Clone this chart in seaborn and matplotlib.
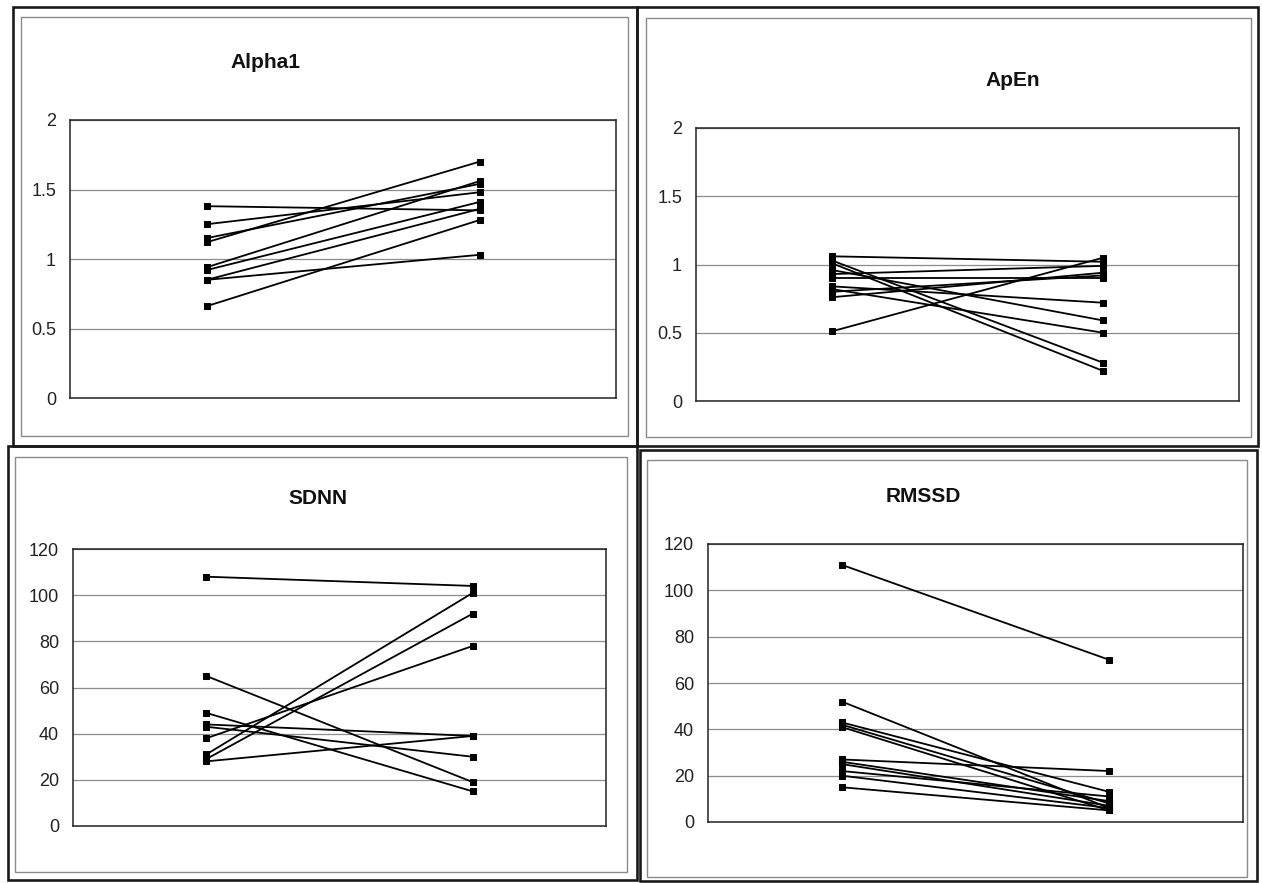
import numpy as np
import pandas as pd
import seaborn as sns
import matplotlib.pyplot as plt
from matplotlib.patches import Rectangle

# paired values, before (pre) and after (post), one pair per subject
alpha1_pre = [1.38, 1.25, 1.15, 1.12, 0.94, 0.92, 0.85, 0.85, 0.66]
alpha1_post = [1.35, 1.48, 1.54, 1.70, 1.56, 1.41, 1.36, 1.03, 1.28]

apen_pre = [1.06, 1.03, 1.01, 0.96, 0.93, 0.90, 0.84, 0.82, 0.80, 0.76, 0.51]
apen_post = [1.02, 0.28, 0.22, 0.59, 0.99, 0.90, 0.72, 0.50, 0.92, 0.94, 1.05]

sdnn_pre = [108, 65, 49, 44, 43, 38, 31, 29, 28]
sdnn_post = [104, 19, 15, 39, 30, 78, 101, 92, 39]

rmssd_pre = [111, 52, 43, 42, 41, 27, 26, 25, 22, 20, 15]
rmssd_post = [70, 6, 13, 8, 5, 22, 9, 7, 11, 6, 5]

titles = ["Alpha1", "ApEn", "SDNN", "RMSSD"]
yticks = [[0, 0.5, 1, 1.5, 2], [0, 0.5, 1, 1.5, 2],
          [0, 20, 40, 60, 80, 100, 120], [0, 20, 40, 60, 80, 100, 120]]
ytick_labels = [["0", "0.5", "1", "1.5", "2"], ["0", "0.5", "1", "1.5", "2"],
                ["0", "20", "40", "60", "80", "100", "120"],
                ["0", "20", "40", "60", "80", "100", "120"]]

W, H = 1262, 883

sns.set_style("white")
plt.rcParams['font.family'] = ['Liberation Sans Narrow', 'Liberation Sans', 'DejaVu Sans']

fig = plt.figure(figsize=(W / 100, H / 100), dpi=100)


def fbox(x0, y0, x1, y1):
    # pixel box (top-left origin) -> figure fraction [left, bottom, width, height]
    return [x0 / W, 1 - y1 / H, (x1 - x0) / W, (y1 - y0) / H]


# panel frames: outer dark line, inner grey line
outer = [(13, 7, 637, 446), (637, 7, 1258, 446), (8, 446, 637, 880), (640, 450, 1257, 881)]
inner = [(21, 17, 628, 436), (646, 18, 1251, 437), (15, 457, 627, 872), (647, 460, 1247, 877)]
for b in outer:
    l, bt, w, h = fbox(*b)
    fig.add_artist(Rectangle((l, bt), w, h, transform=fig.transFigure, fill=False,
                             edgecolor="#1a1a1a", linewidth=1.9))
for b in inner:
    l, bt, w, h = fbox(*b)
    fig.add_artist(Rectangle((l, bt), w, h, transform=fig.transFigure, fill=False,
                             edgecolor="#8a8a8a", linewidth=1.0))

plot_boxes = [(70, 120, 616, 398), (696, 128, 1239, 401), (73, 549, 606, 826), (708, 544, 1243, 822)]
title_pos = [(265, 62), (1013, 80), (318, 498), (923, 497)]

data = [(alpha1_pre, alpha1_post), (apen_pre, apen_post),
        (sdnn_pre, sdnn_post), (rmssd_pre, rmssd_post)]

for i, (pre, post) in enumerate(data):
    n = len(pre)
    df = pd.DataFrame({
        "subject": list(range(n)) * 2,
        "time": [0] * n + [1] * n,
        "value": pre + post,
    })
    ax = fig.add_axes(fbox(*plot_boxes[i]))
    sns.lineplot(data=df, x="time", y="value", units="subject", estimator=None,
                 color="black", linewidth=1.3, marker="s", markersize=4,
                 markeredgecolor="black", ax=ax)
    ax.set_xlim(-0.5, 1.5)
    ax.set_ylim(yticks[i][0], yticks[i][-1])
    ax.set_xticks([])
    ax.set_yticks(yticks[i])
    ax.set_yticklabels(ytick_labels[i], fontsize=13, color="#222222")
    ax.tick_params(axis="y", length=4, width=0.8, color="#555555", pad=6)
    ax.set_xlabel("")
    ax.set_ylabel("")
    ax.yaxis.grid(True, color="#8c8c8c", linewidth=0.9)
    ax.set_axisbelow(True)
    for s in ax.spines.values():
        s.set_color("#222222")
        s.set_linewidth(1.1)
    tx, ty = title_pos[i]
    fig.text(tx / W, 1 - ty / H, titles[i], ha="center", va="center",
             fontsize=15, fontweight="bold", color="#111111")

plt.savefig("out.png", dpi=100)
plt.clf()
